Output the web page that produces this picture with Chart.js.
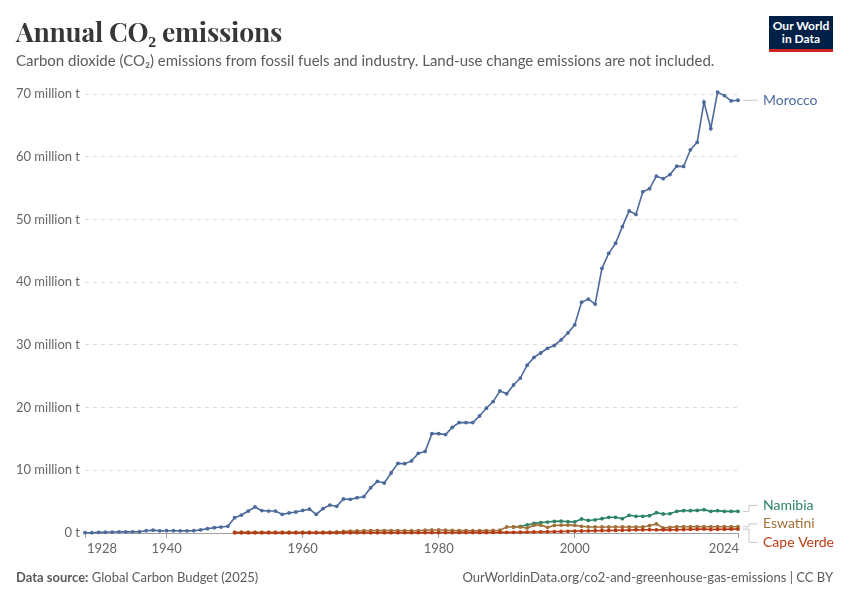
<!DOCTYPE html>
<html>
<head>
<meta charset="utf-8">
<script src="https://cdn.jsdelivr.net/npm/chart.js@4/dist/chart.umd.min.js"></script>
<style>
  html, body { margin:0; padding:0; background:#fff; }
  body { width:850px; height:600px; position:relative; overflow:hidden; font-family: Lato, "Noto Sans", sans-serif; }
  #title { position:absolute; left:16px; top:16px; font-family:"Playfair Display","Liberation Serif",serif; font-weight:bold; font-size:26.5px; color:#373737; line-height:1.2; letter-spacing:-0.2px; }
  #subtitle { position:absolute; left:16px; top:51px; font-size:15px; color:#5b5b5b; line-height:1.2; }
  #logo { position:absolute; left:769px; top:16px; width:64px; background:#002147; border-bottom:3px solid #ce261e; color:#fff; font-size:12px; font-weight:bold; text-align:center; line-height:13px; padding-top:3px; box-sizing:content-box; height:30px; }
  #footL { position:absolute; left:16px; top:569px; font-size:13px; color:#5b5b5b; }
  #footR { position:absolute; right:17px; top:569px; font-size:13px; color:#5b5b5b; }
  #wrap { position:absolute; left:0; top:0; width:850px; height:600px; }
</style>
</head>
<body>
<div id="wrap"><canvas id="c" width="850" height="600"></canvas></div>
<div id="title">Annual CO₂ emissions</div>
<div id="subtitle">Carbon dioxide (CO₂) emissions from fossil fuels and industry. Land-use change emissions are not included.</div>
<div id="logo">Our World<br>in Data</div>
<div id="footL"><b>Data source:</b> Global Carbon Budget (2025)</div>
<div id="footR">OurWorldinData.org/co2-and-greenhouse-gas-emissions | CC BY</div>
<script>
// ---- Data (million tonnes CO2) ----
const moroccoStart = 1928;
const morocco = [
  0.05,0.05,0.1,0.12,0.15,0.18,0.18,0.18,0.2,0.37,
  0.45,0.34,0.37,0.37,0.34,0.34,0.37,0.5,0.69,0.85,
  0.95,1.06,2.44,2.86,3.5,4.15,3.57,3.5,3.5,2.97,
  3.2,3.35,3.6,3.8,2.97,3.9,4.46,4.25,5.42,5.37,
  5.63,5.79,7.23,8.24,7.97,9.57,11.1,11.05,11.5,12.7,
  13.0,15.84,15.84,15.7,16.85,17.6,17.6,17.6,18.66,19.9,
  20.95,22.65,22.2,23.6,24.7,26.75,28.0,28.7,29.45,29.9,
  30.8,31.9,33.2,36.8,37.3,36.5,42.2,44.6,46.2,48.85,
  51.35,50.8,54.4,54.9,56.9,56.5,57.15,58.5,58.45,61.1,
  62.3,68.7,64.5,70.3,69.75,68.9,69.0
];
const namibiaStart = 1991;
const namibia = [
  0.96,1.07,1.28,1.54,1.65,1.75,1.86,1.9,1.8,1.78,
  2.23,2.0,2.1,2.28,2.5,2.5,2.28,2.82,2.66,2.66,
  2.77,3.24,3.03,3.08,3.45,3.56,3.56,3.6,3.72,3.45,
  3.56,3.45,3.45,3.45
];
const eswatiniStart = 1950;
const eswatini = [
  0.12,0.12,0.12,0.12,0.12,0.12,0.12,0.12,0.12,0.12,
  0.12,0.12,0.12,0.12,0.14,0.16,0.25,0.3,0.33,0.36,
  0.38,0.38,0.38,0.38,0.38,0.36,0.36,0.38,0.45,0.48,
  0.48,0.45,0.4,0.38,0.38,0.36,0.38,0.38,0.4,0.45,
  0.96,0.96,0.96,0.78,1.25,1.25,0.9,1.2,1.25,1.25,
  1.22,1.07,0.98,0.96,0.96,0.96,0.96,0.96,0.96,0.96,
  0.96,1.17,1.44,0.8,0.9,1.0,1.0,1.0,1.02,1.0,
  1.0,1.0,1.0,1.0,1.0
];
const capeVerdeStart = 1950;
const capeVerde = [
  0.02,0.02,0.02,0.02,0.02,0.02,0.02,0.02,0.02,0.02,
  0.02,0.02,0.02,0.02,0.02,0.03,0.04,0.04,0.05,0.05,
  0.05,0.05,0.05,0.05,0.05,0.05,0.05,0.05,0.06,0.06,
  0.07,0.07,0.07,0.07,0.07,0.08,0.08,0.08,0.09,0.1,
  0.1,0.1,0.12,0.14,0.16,0.18,0.2,0.22,0.24,0.27,
  0.3,0.32,0.34,0.36,0.38,0.4,0.42,0.45,0.47,0.5,
  0.52,0.53,0.5,0.52,0.5,0.52,0.55,0.58,0.6,0.62,
  0.55,0.58,0.6,0.62,0.62
];
const xTicks = [1928, 1940, 1960, 1980, 2000, 2024];
const yTicks = [0, 10, 20, 30, 40, 50, 60, 70];
const seriesNames = ["Morocco", "Namibia", "Eswatini", "Cape Verde"];
const seriesColors = ["#4c6a9c", "#2c8465", "#a2713a", "#b83a12"];

function toPoints(start, vals) { return vals.map((v, i) => ({ x: start + i, y: v })); }
const seriesData = [
  toPoints(moroccoStart, morocco),
  toPoints(namibiaStart, namibia),
  toPoints(eswatiniStart, eswatini),
  toPoints(capeVerdeStart, capeVerde)
];

Chart.defaults.font.family = 'Lato, "Noto Sans", sans-serif';

const labelPlugin = {
  id: 'owidLabels',
  afterDatasetsDraw(chart) {
    const ctx = chart.ctx;
    const xs = chart.scales.x;
    ctx.save();
    ctx.font = '13px Lato, "Noto Sans", sans-serif';
    ctx.fillStyle = '#666';
    ctx.textBaseline = 'middle';
    xTicks.forEach((v, i) => {
      const px = xs.getPixelForValue(v);
      ctx.textAlign = i === 0 ? 'left' : (i === xTicks.length - 1 ? 'right' : 'center');
      ctx.fillText(String(v), i === 0 ? px + 2 : px + (i === xTicks.length - 1 ? 1 : 0), chart.chartArea.bottom + 16);
    });
    ctx.restore();

    const items = chart.data.datasets.map((ds, i) => {
      const meta = chart.getDatasetMeta(i);
      const last = meta.data[meta.data.length - 1];
      return { name: ds.label, color: ds.borderColor, px: last.x, py: last.y };
    });
    items.sort((a, b) => a.py - b.py);
    const gap = 18.5;
    let groups = items.map(it => ({ items: [it], center: it.py }));
    let merged = true;
    while (merged) {
      merged = false;
      for (let i = 0; i < groups.length - 1; i++) {
        const a = groups[i], b = groups[i + 1];
        const aBottom = a.center + (a.items.length - 1) * gap / 2;
        const bTop = b.center - (b.items.length - 1) * gap / 2;
        if (bTop - aBottom < gap) {
          const all = a.items.concat(b.items);
          const c = all.reduce((s, it) => s + it.py, 0) / all.length;
          groups.splice(i, 2, { items: all, center: c });
          merged = true;
          break;
        }
      }
    }
    const labelX = chart.chartArea.right + 25;
    ctx.save();
    ctx.font = '14px Lato, "Noto Sans", sans-serif';
    ctx.textBaseline = 'middle';
    ctx.textAlign = 'left';
    groups.forEach(g => {
      const n = g.items.length;
      g.items.forEach((it, k) => {
        const ly = g.center + (k - (n - 1) / 2) * gap + (n > 1 ? 1.5 : 0.7);
        ctx.strokeStyle = '#c8c8c8';
        ctx.lineWidth = 1;
        ctx.beginPath();
        const x0 = it.px + 5, xm = it.px + 11, x1 = labelX - 5;
        if (Math.abs(ly - it.py) < 1.5) {
          ctx.moveTo(x0, it.py); ctx.lineTo(x1, it.py);
        } else {
          ctx.moveTo(x0, it.py); ctx.lineTo(xm, it.py); ctx.lineTo(xm, ly); ctx.lineTo(x1, ly);
        }
        ctx.stroke();
        ctx.fillStyle = it.color;
        ctx.fillText(it.name, labelX, ly);
      });
    });
    ctx.restore();
  }
};

new Chart(document.getElementById('c'), {
  type: 'line',
  data: {
    datasets: seriesNames.map((name, i) => ({
      label: name,
      data: seriesData[i],
      borderColor: seriesColors[i],
      backgroundColor: seriesColors[i],
      borderWidth: 1.6,
      pointRadius: 1.9,
      pointHoverRadius: 1.9,
      pointBorderWidth: 0,
      tension: 0,
      clip: false
    })).reverse()
  },
  options: {
    responsive: false,
    animation: false,
    devicePixelRatio: 1,
    layout: { padding: { top: 94, right: 112, bottom: 0, left: 0 } },
    plugins: { legend: { display: false }, tooltip: { enabled: false } },
    scales: {
      x: {
        type: 'linear', min: 1928, max: 2024,
        afterBuildTicks: s => { s.ticks = xTicks.map(v => ({ value: v })); },
        ticks: { color: 'rgba(0,0,0,0)', font: { size: 13 } },
        grid: { drawOnChartArea: false, drawTicks: true, tickLength: 5, color: '#a0a0a0' },
        border: { display: true, color: '#a0a0a0' },
        afterFit: s => { s.height = 67; }
      },
      y: {
        min: 0, max: 70,
        afterBuildTicks: s => { s.ticks = yTicks.map(v => ({ value: v })); },
        ticks: {
          callback: v => v === 0 ? '0 t' : v + ' million t',
          color: '#666', font: { size: 13 }, padding: 5
        },
        grid: {
          color: c => (c.tick && c.tick.value === 0) ? 'rgba(0,0,0,0)' : '#dcdcdc',
          drawTicks: false, lineWidth: 1
        },
        border: { display: false, dash: [4, 4] },
        afterFit: s => { s.width = 85; }
      }
    }
  },
  plugins: [labelPlugin]
});
</script>
</body>
</html>
